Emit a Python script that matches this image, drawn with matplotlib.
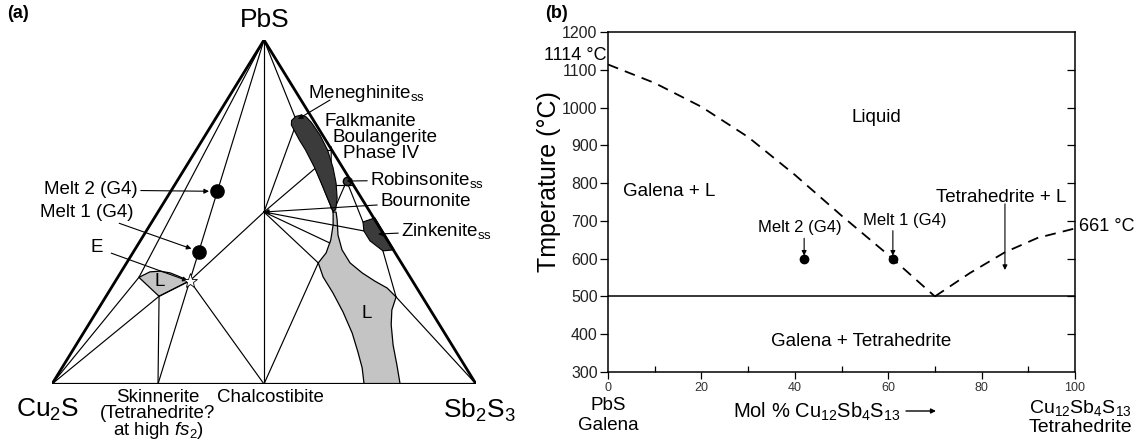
import matplotlib
matplotlib.use("Agg")
import matplotlib.pyplot as plt
from matplotlib.patches import Polygon
import numpy as np

plt.rcParams['font.family'] = ['Liberation Sans', 'DejaVu Sans']
plt.rcParams['mathtext.fontset'] = 'custom'
plt.rcParams['mathtext.rm'] = 'Liberation Sans'
plt.rcParams['mathtext.it'] = 'Liberation Sans:italic'
plt.rcParams['mathtext.bf'] = 'Liberation Sans:bold'

W, H = 1137, 442

# ---------------- panel (a): compositions as (PbS, Sb2S3) mole fractions, rest is Cu2S
PBS = (1.0, 0.0)
CU2S = (0.0, 0.0)
SB2S3 = (0.0, 1.0)
SKINNERITE = (0.0, 0.25)
CHALCOSTIBITE = (0.0, 0.5)
BOURNONITE = (0.50, 0.25)
E_POINT = (0.30, 0.175)
MELT_1 = (0.385, 0.155)
MELT_2 = (0.56, 0.11)
L1_LEFT = (0.31, 0.05)
L1_BOTTOM = (0.255, 0.125)
L1_TOP = [(0.31, 0.05), (0.326, 0.068), (0.328, 0.091), (0.323, 0.117),
          (0.314, 0.14), (0.305, 0.161), (0.30, 0.175)]

MENEGHINITE = [(0.753, 0.188), (0.709, 0.229), (0.680, 0.258), (0.631, 0.303),
               (0.584, 0.343), (0.541, 0.379), (0.503, 0.411), (0.506, 0.416),
               (0.541, 0.402), (0.584, 0.378), (0.628, 0.349), (0.680, 0.310),
               (0.724, 0.270), (0.760, 0.232), (0.776, 0.212), (0.782, 0.198),
               (0.778, 0.186), (0.766, 0.182)]
MENEG_TOP = (0.770, 0.195)
ROBINSONITE = (0.59, 0.40)
ZINKENITE = [(0.471, 0.498), (0.483, 0.520), (0.390, 0.612), (0.387, 0.587),
             (0.416, 0.542), (0.445, 0.513)]
ZINK_MID = (0.436, 0.551)
LIQUID_2 = [(0.500, 0.413), (0.462, 0.432), (0.419, 0.448), (0.381, 0.456),
            (0.352, 0.452), (0.311, 0.484), (0.265, 0.530), (0.209, 0.582),
            (0.148, 0.634), (0.093, 0.675), (0.047, 0.708), (0.0, 0.736),
            (0.0, 0.821), (0.055, 0.786), (0.113, 0.748), (0.172, 0.714),
            (0.215, 0.694), (0.253, 0.685), (0.279, 0.651), (0.299, 0.612),
            (0.323, 0.570), (0.352, 0.527), (0.390, 0.489), (0.433, 0.458),
            (0.477, 0.434), (0.500, 0.420)]
GREY_TOP = (0.500, 0.413)
GREY_BULGE = (0.352, 0.452)
GREY_LEFT = (0.41, 0.45)
GREY_CORNER = (0.253, 0.685)
ZINK_TOP = (0.471, 0.498)
ZINK_LEFT = (0.445, 0.513)
ZINK_BOTTOM = (0.387, 0.587)

TIE_LINES = [
    (PBS, SKINNERITE), (PBS, CHALCOSTIBITE), (PBS, L1_LEFT), (CU2S, L1_LEFT),
    (CU2S, L1_BOTTOM), (SKINNERITE, L1_BOTTOM), (L1_BOTTOM, E_POINT),
    (E_POINT, CHALCOSTIBITE), (E_POINT, BOURNONITE),
    (PBS, GREY_TOP), (BOURNONITE, MENEG_TOP), (BOURNONITE, (0.631, 0.309)),
    (BOURNONITE, GREY_LEFT), (BOURNONITE, GREY_BULGE), (BOURNONITE, ZINK_LEFT),
    (CHALCOSTIBITE, GREY_BULGE),
    ((0.689, 0.314), (0.512, 0.402)), ((0.680, 0.297), (0.680, 0.320)),
    ((0.578, 0.369), (0.578, 0.421)), (GREY_TOP, ROBINSONITE),
    (ROBINSONITE, ZINK_TOP), (ZINK_BOTTOM, GREY_CORNER), (GREY_CORNER, SB2S3),
]

# ---------------- panel (b): PbS - tetrahedrite join
liq_left_x = [0, 10, 20, 30, 40, 50, 60, 70]
liq_left_t = [1114, 1065, 1002, 922, 822, 714, 610, 500]
liq_right_x = [70, 77.5, 85, 92, 100]
liq_right_t = [500, 562, 617, 655, 680]
solidus_t = 500
melt_x = [42, 61]
melt_t = [600, 600]
melt_names = ["Melt 2 (G4)", "Melt 1 (G4)"]
melt_label_x = [41, 63.5]
tl_arrow_x = 85
tl_arrow_t = [745, 570]


def tern(c):
    pbs, sb = c
    return sb + pbs / 2.0, pbs


def tern_arr(cs):
    xy = np.array([tern(c) for c in cs])
    return xy[:, 0], xy[:, 1]


def fpos(x, y):
    # pixel position measured from top-left -> figure fraction
    return x / W, 1 - y / H


def main():
    fig = plt.figure(figsize=(W / 100, H / 100), dpi=100)

    # ---------- (a)
    ax = fig.add_axes([52 / W, (H - 384) / H, 424 / W, 344 / H])
    ax.set_xlim(0, 1)
    ax.set_ylim(0, 1)
    ax.axis('off')

    lq = tern_arr(LIQUID_2)
    ax.add_patch(Polygon(np.column_stack(lq), closed=True, fc='#c4c4c4',
                         ec='k', lw=0.9, zorder=1))
    sl = tern_arr(L1_TOP + [L1_BOTTOM])
    ax.add_patch(Polygon(np.column_stack(sl), closed=True, fc='#c4c4c4',
                         ec='k', lw=0.9, zorder=1))

    for a, b in TIE_LINES:
        xs, ys = tern_arr([a, b])
        ax.plot(xs, ys, color='k', lw=0.85, zorder=2)

    mx, my = tern_arr(MENEGHINITE)
    ax.add_patch(Polygon(np.column_stack((mx, my)), closed=True, fc='#3b3b3b',
                         ec='k', lw=0.8, zorder=3))
    zx, zy = tern_arr(ZINKENITE)
    ax.add_patch(Polygon(np.column_stack((zx, zy)), closed=True, fc='#3b3b3b',
                         ec='k', lw=0.8, zorder=3))
    rx, ry = tern(ROBINSONITE)
    ax.plot(rx, ry, 'o', color='#3b3b3b', mec='k', ms=6, zorder=3)

    # triangle frame
    tx, ty = tern_arr([CU2S, PBS, SB2S3, CU2S])
    ax.plot(tx[:2], ty[:2], color='k', lw=2.0, zorder=4, solid_capstyle='round')
    ax.plot(tx[1:3], ty[1:3], color='k', lw=2.0, zorder=4, solid_capstyle='round')
    ax.plot(tx[2:], ty[2:], color='k', lw=1.6, zorder=4)

    m1 = tern(MELT_1)
    m2 = tern(MELT_2)
    ax.plot([m1[0], m2[0]], [m1[1], m2[1]], 'o', color='k', ms=9.5, zorder=5)
    ex, ey = tern(E_POINT)
    ax.plot(ex, ey, '*', mfc='white', mec='k', mew=0.6, ms=11, zorder=5)

    arrow = dict(arrowstyle='-|>', lw=0.8, color='k', mutation_scale=7,
                 shrinkA=0, shrinkB=0)
    fs_lab = 13.5
    fig.text(*fpos(7, 14), "(a)", fontsize=13, fontweight='bold', va='center')
    fig.text(*fpos(265, 20), "PbS", fontsize=19, ha='center', va='center')
    fig.text(*fpos(48, 410), "Cu$_2$S", fontsize=19, ha='center', va='center')
    fig.text(*fpos(479, 410), "Sb$_2$S$_3$", fontsize=19, ha='center', va='center')
    fig.text(*fpos(158, 415),
             "Skinnerite\n(Tetrahedrite?\nat high $\\mathit{fs}_\\mathregular{2}$)",
             fontsize=fs_lab, ha='center', va='center', multialignment='center',
             linespacing=0.88)
    fig.text(*fpos(270, 398), "Chalcostibite", fontsize=fs_lab, ha='center', va='center')
    fig.text(*fpos(160, 282), "L", fontsize=fs_lab, ha='center', va='center')
    fig.text(*fpos(367, 313), "L", fontsize=fs_lab, ha='center', va='center')

    fig.text(*fpos(308, 93), "Meneghinite$_\\mathregular{ss}$", fontsize=fs_lab, va='center')
    fig.text(*fpos(325, 122), "Falkmanite", fontsize=fs_lab, va='center')
    fig.text(*fpos(333, 137), "Boulangerite", fontsize=fs_lab, va='center')
    fig.text(*fpos(343, 153), "Phase IV", fontsize=fs_lab, va='center')

    ax.annotate("Robinsonite$_\\mathregular{ss}$", xy=(rx, ry),
                xytext=fpos(370, 180), textcoords='figure fraction',
                fontsize=fs_lab, va='center', arrowprops=arrow)
    ax.annotate("Bournonite", xy=tern(BOURNONITE),
                xytext=fpos(380, 202), textcoords='figure fraction',
                fontsize=fs_lab, va='center', arrowprops=arrow)
    ax.annotate("Zinkenite$_\\mathregular{ss}$", xy=tern(ZINK_MID),
                xytext=fpos(401, 231), textcoords='figure fraction',
                fontsize=fs_lab, va='center', arrowprops=arrow)
    ax.annotate("", xy=tern(MENEG_TOP), xytext=fpos(330, 100),
                textcoords='figure fraction', arrowprops=arrow)

    ax.annotate("Melt 2 (G4)", xy=m2, xytext=fpos(138, 190),
                textcoords='figure fraction', fontsize=fs_lab, ha='right',
                va='center', arrowprops=dict(arrow, shrinkB=6))
    ax.annotate("Melt 1 (G4)", xy=m1, xytext=fpos(134, 212),
                textcoords='figure fraction', fontsize=fs_lab, ha='right',
                va='center', arrowprops=dict(arrow, shrinkB=6))
    ax.annotate("E", xy=(ex - 0.005, ey), xytext=fpos(97, 248),
                textcoords='figure fraction', fontsize=fs_lab, ha='center',
                va='center', arrowprops=dict(arrow, shrinkA=4))

    # ---------- (b)
    bx = fig.add_axes([608 / W, (H - 372) / H, 467 / W, 340 / H])
    bx.set_xlim(0, 100)
    bx.set_ylim(300, 1200)
    bx.plot(liq_left_x, liq_left_t, color='k', lw=1.3, ls=(0, (6, 4)))
    bx.plot(liq_right_x, liq_right_t, color='k', lw=1.3, ls=(0, (6, 4)))
    bx.axhline(solidus_t, color='k', lw=1.1)
    bx.plot(melt_x, melt_t, 'o', color='k', ms=6, zorder=4)

    bx.set_xticks(range(0, 101, 20))
    bx.set_xticks(range(10, 100, 20), minor=True)
    bx.set_yticks(range(300, 1201, 100))
    bx.tick_params(axis='y', labelsize=11.5, labelcolor='#222222', length=6,
                   width=0.9, pad=1.5)
    bx.tick_params(axis='x', labelsize=9, labelcolor='#333333', length=5,
                   width=0.9, pad=2)
    bx.tick_params(axis='x', which='minor', direction='in', length=4, width=0.9)
    for s in bx.spines.values():
        s.set_linewidth(1.1)
    rb = bx.twinx()
    rb.set_ylim(300, 1200)
    rb.set_yticks(range(400, 1200, 100))
    rb.tick_params(direction='in', length=6, width=0.9, labelright=False)
    for s in rb.spines.values():
        s.set_visible(False)

    fig.text(*fpos(549, 182), "Tmperature (°C)", fontsize=18, rotation=90,
             ha='center', va='center')

    bfs = 13.5
    bx.text(57.5, 975, "Liquid", fontsize=bfs, ha='center', va='center')
    bx.text(3.2, 778, "Galena + L", fontsize=bfs, ha='left', va='center')
    bx.text(54.2, 380, "Galena + Tetrahedrite", fontsize=bfs, ha='center', va='center')
    bx.text(84.2, 763, "Tetrahedrite + L", fontsize=bfs, ha='center', va='center')
    bx.annotate("", xy=(tl_arrow_x, tl_arrow_t[1]), xytext=(tl_arrow_x, tl_arrow_t[0]),
                arrowprops=arrow)
    for x, t, name, lx, ty in zip(melt_x, melt_t, melt_names, melt_label_x, [682, 702]):
        bx.text(lx, ty, name, fontsize=12, ha='center', va='center')
        bx.annotate("", xy=(x, t + 8), xytext=(x, ty - 28), arrowprops=arrow)

    fig.text(*fpos(545, 14), "(b)", fontsize=13, fontweight='bold', va='center')
    fig.text(*fpos(606, 56), "1114 °C", fontsize=13, ha='right', va='center')
    fig.text(*fpos(1079, 227), "661 °C", fontsize=13, ha='left', va='center')
    fig.text(*fpos(608, 406), "PbS", fontsize=13.5, ha='center', va='center')
    fig.text(*fpos(608, 426), "Galena", fontsize=13.5, ha='center', va='center')
    fig.text(*fpos(733, 412), "Mol % Cu$_{12}$Sb$_4$S$_{13}$", fontsize=14.5, va='center')
    fig.text(*fpos(1080, 408), "Cu$_{12}$Sb$_4$S$_{13}$", fontsize=14, ha='center', va='center')
    fig.text(*fpos(1080, 427), "Tetrahedrite", fontsize=14, ha='center', va='center')
    bx.annotate("", xy=fpos(936, 411), xytext=fpos(906, 411),
                xycoords='figure fraction', textcoords='figure fraction',
                arrowprops=dict(arrow, lw=1.0))

    fig.savefig("out.png", dpi=100)


if __name__ == "__main__":
    main()
